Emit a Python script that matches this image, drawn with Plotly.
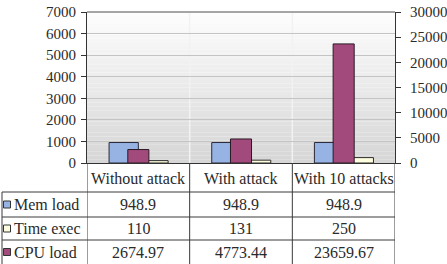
import plotly.graph_objects as go

categories = ["Without attack", "With attack", "With 10 attacks"]
series_names = ["Mem load", "Time exec", "CPU load"]
mem_load = [948.9, 948.9, 948.9]
time_exec = [110, 131, 250]
cpu_load = [2674.97, 4773.44, 23659.67]
value_labels = {
    "Mem load": ["948.9", "948.9", "948.9"],
    "Time exec": ["110", "131", "250"],
    "CPU load": ["2674.97", "4773.44", "23659.67"],
}
colors = {"Mem load": "#97B3E3", "Time exec": "#FFFFE0", "CPU load": "#A34A7D"}

W, H = 447, 264
L, R, T, B = 87, 395, 12, 163
FONT = "Liberation Serif, DejaVu Serif, serif"
TXT = "#2a2a2a"


def px2x(px):
    return (px - L) / (R - L)


def px2y(py):
    return (B - py) / (B - T)


fig = go.Figure()
x_idx = list(range(len(categories)))
fig.add_trace(go.Bar(x=x_idx, y=mem_load, name="Mem load", yaxis="y",
                     width=0.285, offset=-0.285,
                     marker=dict(color=colors["Mem load"], line=dict(color="#2a2a3a", width=1))))
fig.add_trace(go.Bar(x=x_idx, y=time_exec, name="Time exec", yaxis="y",
                     width=0.29, offset=0.0,
                     marker=dict(color=colors["Time exec"], line=dict(color="#2a2a2a", width=1))))
fig.add_trace(go.Bar(x=x_idx, y=cpu_load, name="CPU load", yaxis="y2",
                     width=0.205, offset=-0.1025,
                     marker=dict(color=colors["CPU load"], line=dict(color="#2a1a22", width=1))))

shapes = []
n = 40
for i in range(n):
    y0 = i / n
    y1 = (i + 1) / n
    g = int(214 + (254 - 214) * (y0 + 0.5 / n))
    shapes.append(dict(type="rect", xref="paper", yref="paper", x0=0, x1=1, y0=y0, y1=y1,
                       fillcolor=f"rgb({g},{g},{g})", line=dict(width=0), layer="below"))
for xv in [0.5, 1.5]:
    shapes.append(dict(type="line", xref="x", yref="paper", x0=xv, x1=xv, y0=0, y1=1,
                       line=dict(color="#F2F2F2", width=1.5), layer="below"))
line_c = "#3a3a3a"
row_lines = [192, 217, 240]
for ry in row_lines:
    shapes.append(dict(type="line", xref="paper", yref="paper", x0=px2x(2), x1=px2x(395),
                       y0=px2y(ry), y1=px2y(ry), line=dict(color=line_c, width=1)))
shapes.append(dict(type="line", xref="paper", yref="paper", x0=px2x(2), x1=px2x(2),
                   y0=px2y(192), y1=px2y(266), line=dict(color=line_c, width=1)))
for xv in [-0.5, 0.5, 1.5, 2.5]:
    shapes.append(dict(type="line", xref="x", yref="paper", x0=xv, x1=xv,
                       y0=0, y1=px2y(266), line=dict(color=line_c, width=1)))
fig.update_layout(shapes=shapes)

TS = 16
annotations = []
for i, c in enumerate(categories):
    annotations.append(dict(x=i, y=px2y(178), xref="x", yref="paper", text=c, showarrow=False,
                            xanchor="center", yanchor="middle",
                            font=dict(family=FONT, size=TS, color=TXT)))
row_centers = {"Mem load": 204.5, "Time exec": 228.5, "CPU load": 252}
for name in series_names:
    yc = px2y(row_centers[name])
    annotations.append(dict(x=px2x(12), y=yc, xref="paper", yref="paper", text=name,
                            showarrow=False, xanchor="left", yanchor="middle",
                            font=dict(family=FONT, size=TS, color=TXT)))
    for i in range(len(categories)):
        annotations.append(dict(x=i, y=yc, xref="x", yref="paper", text=value_labels[name][i],
                                showarrow=False, xanchor="center", yanchor="middle",
                                font=dict(family=FONT, size=TS, color=TXT)))
fig.update_layout(annotations=annotations)

for name in series_names:
    yc = row_centers[name]
    fig.add_shape(type="rect", xref="paper", yref="paper", x0=px2x(3.5), x1=px2x(10.5),
                  y0=px2y(yc + 3.5), y1=px2y(yc - 3.5),
                  fillcolor=colors[name], line=dict(color="#333", width=1))

fig.update_layout(
    width=W, height=H,
    margin=dict(l=L, r=W - R, t=T, b=H - B, pad=0, autoexpand=False),
    paper_bgcolor="white",
    plot_bgcolor="rgba(0,0,0,0)",
    showlegend=False,
    barmode="overlay",
    font=dict(family=FONT, size=15, color=TXT),
    xaxis=dict(range=[-0.5, 2.5], showticklabels=False, showgrid=False, zeroline=False,
               showline=True, linecolor="#333", linewidth=1, ticks="", automargin=False),
    yaxis=dict(range=[0, 7000], dtick=1000, tickformat="d", showgrid=True, gridcolor="#C4C4C4",
               gridwidth=1, zeroline=False, showline=True, linecolor="#333", linewidth=1,
               ticks="outside", ticklen=5, tickcolor="#333", ticklabelstandoff=2, automargin=False,
               tickfont=dict(family=FONT, size=15, color=TXT)),
    yaxis2=dict(range=[0, 30000], dtick=5000, tickformat="d", overlaying="y", side="right",
                showgrid=False, zeroline=False, showline=True, linecolor="#333", linewidth=1,
                ticks="outside", ticklen=5, tickcolor="#333", ticklabelstandoff=6, automargin=False,
                tickfont=dict(family=FONT, size=15, color=TXT)),
)
fig.add_shape(type="line", xref="paper", yref="paper", x0=0, x1=1, y0=1, y1=1,
              line=dict(color="#888", width=1.5))

fig.write_html("out.html")
